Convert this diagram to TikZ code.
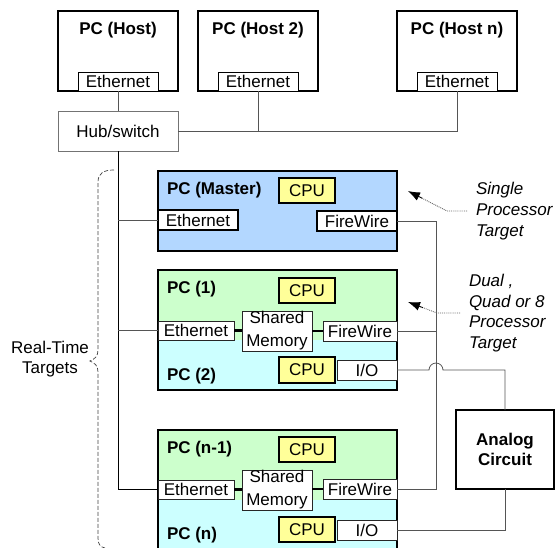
\documentclass[tikz,border=0pt]{standalone}
\usepackage{fontspec}
\setmainfont{Liberation Sans}
\usetikzlibrary{arrows.meta,calc}
\definecolor{masterblue}{RGB}{179,215,255}
\definecolor{upgreen}{RGB}{204,255,204}
\definecolor{lowcyan}{RGB}{204,255,255}
\definecolor{cpuyellow}{RGB}{255,255,153}
\definecolor{wirecol}{RGB}{85,85,85}

\begin{document}
\begin{tikzpicture}[x=1pt,y=-1pt,
  font=\fontsize{17}{20}\selectfont,
  every node/.style={inner sep=0pt, outer sep=0pt},
  hostbox/.style={draw, line width=2pt, minimum width=120pt, minimum height=80pt, anchor=north west},
  hubbox/.style={draw=black!55, line width=0.9pt, minimum width=120pt, minimum height=40pt, anchor=north west},
  hostport/.style={draw, fill=white, line width=0.8pt, minimum width=80pt, minimum height=19pt, anchor=south},
  title/.style={font=\bfseries\fontsize{17}{20}\selectfont},
  tbox/.style={draw, line width=2.2pt, minimum width=239pt, anchor=north west},
  dualfill/.style={path picture={
      \fill[lowcyan] (path picture bounding box.south west) rectangle (path picture bounding box.north east);
      \fill[upgreen] (path picture bounding box.north west) rectangle ([yshift=-70pt]path picture bounding box.north east);}},
  cpubox/.style={draw, fill=cpuyellow, line width=2pt, minimum width=56pt, minimum height=25pt, anchor=north west},
  mport/.style={draw, fill=white, line width=1.7pt, minimum width=80pt, minimum height=20pt, anchor=north west},
  dport/.style={draw=black!85, fill=white, line width=0.8pt, minimum height=19pt, anchor=north west},
  shmbox/.style={draw=black!85, fill=white, line width=0.8pt, minimum width=70pt, minimum height=40pt, anchor=north west,
      align=center, font=\fontsize{17}{23}\selectfont},
  iobox/.style={draw=black!85, fill=white, line width=0.8pt, minimum width=60pt, minimum height=20pt, anchor=north west},
  pcname/.style={anchor=west, font=\bfseries\fontsize{17}{20}\selectfont},
  wire/.style={draw=wirecol, line width=0.8pt},
  trunk/.style={draw=black, line width=0.9pt},
  memlink/.style={draw=black, line width=2.2pt},
  note/.style={anchor=west, inner xsep=9pt, align=left},
  pointerline/.style={draw=black!60, densely dotted, line width=0.9pt},
  pointerhead/.style={draw=black, line width=0.8pt, -{Latex[length=12pt,width=9pt]}},
  bracecurve/.style={draw=black!75, line width=0.7pt, dash pattern=on 4pt off 2pt}
]
\useasboundingbox (0,0) rectangle (555,547);
\clip (0,0) rectangle (555,547);

% host computers
\node[hostbox] (host1) at (58,11) {};
\node[hostbox] (host2) at (198,11) {};
\node[hostbox] (hostn) at (397,11) {};
\node[title] (host1t) at ($(host1.north)+(0,19.5)$) {PC (Host)};
\node[title] (host2t) at ($(host2.north)+(0,19.5)$) {PC (Host 2)};
\node[title] (hostnt) at ($(hostn.north)+(0,19.5)$) {PC (Host n)};
\node[hostport] (host1eth) at (host1.south) {Ethernet};
\node[hostport] (host2eth) at (host2.south) {Ethernet};
\node[hostport] (hostneth) at (hostn.south) {Ethernet};

% network switch
\node[hubbox] (hub) at (58,111) {Hub/switch};

% single processor target
\node[tbox, fill=masterblue, minimum height=80pt] (master) at (158,171) {};
\node[pcname] (mname) at (167,190) {PC (Master)};
\node[cpubox] (mcpu) at (279,178) {CPU};
\node[mport] (meth) at (158,210) {Ethernet};
\node[mport] (mfw) at (317,211) {\raisebox{-1.5pt}{FireWire}};

% dual processor target
\node[tbox, dualfill, minimum height=120pt] (dual1) at (158,270) {};
\node[pcname] (name1) at (167,289) {PC (1)};
\node[pcname] (name2) at (167,376) {PC (2)};
\node[cpubox] (cpu1) at (279,278) {CPU};
\node[cpubox, minimum height=26pt] (cpu2) at (279,357) {CPU};
\node[dport, minimum width=76pt] (eth1) at (158,321) {Ethernet};
\node[shmbox] (shm1) at (242,311) {Shared\\Memory};
\node[dport, minimum width=74pt, minimum height=20pt] (fw1) at (323,321) {\raisebox{-1.5pt}{FireWire}};
\node[iobox] (io2) at (337,360) {I/O};

% last multi processor target
\node[tbox, dualfill, minimum height=120pt] (dualn) at (158,430) {};
\node[pcname] (namen1) at (167,449) {PC (n-1)};
\node[pcname] (namen) at (167,535) {PC (n)};
\node[cpubox] (cpun1) at (279,437) {CPU};
\node[cpubox] (cpun) at (279,517) {CPU};
\node[dport, minimum width=76pt] (ethn1) at (158,480) {Ethernet};
\node[shmbox] (shmn) at (242,470) {Shared\\Memory};
\node[dport, minimum width=74pt, minimum height=20pt] (fwn1) at (323,479) {\raisebox{-1.5pt}{FireWire}};
\node[iobox] (ion) at (337,520) {I/O};

% analog hardware
\node[draw, line width=2pt, minimum width=98pt, minimum height=79pt, anchor=north west, align=center,
      font=\bfseries\fontsize{17}{19.5}\selectfont] (analog) at (456,410) {Analog\\Circuit};

% ethernet network
\draw[wire] (host1eth.south) -- (hub.north);
\draw[wire] (hub.east) -- (hub.east -| hostneth.south) -- (hostneth.south);
\draw[wire] (host2eth.south) -- (host2eth.south |- hub.east);
\draw[trunk] (hub.south) -- (hub.south |- ethn1.west) -- (ethn1.west);
\draw[wire] (hub.south |- meth.west) -- (meth.west);
\draw[wire] (hub.south |- eth1.west) -- (eth1.west);

% shared memory links
\draw[memlink] (eth1.east) -- (eth1.east -| shm1.west);
\draw[memlink] (shm1.east |- fw1.west) -- (fw1.west);
\draw[memlink] (ethn1.east) -- (ethn1.east -| shmn.west);
\draw[memlink] (shmn.east |- fwn1.west) -- (fwn1.west);

% firewire bus
\coordinate (bus) at (436,221);
\draw[wire] (mfw.east) -- (bus |- mfw.east) -- (bus |- fwn1.east) -- (fwn1.east);
\draw[wire] (fw1.east) -- (bus |- fw1.east);

% I/O wiring to the analog circuit
\draw[wire] (io2.east) -- ($(bus |- io2.east)+(-7,0)$) arc[start angle=180, end angle=0, radius=7pt] -| (analog.north);
\draw[wire] (ion.east) -| (analog.south);

% annotations
\node[note, font=\itshape\fontsize{17}{21}\selectfont] (single) at (467,211) {Single\\Processor\\Target};
\node[note, font=\itshape\fontsize{17}{20.4}\selectfont] (multi) at (460,313) {Dual ,\\Quad or 8\\Processor\\Target};
\coordinate (tip1) at (408,191);
\coordinate (tip2) at (408,302);
\coordinate (bend1) at ($(single.west)+(-20,0)$);
\coordinate (bend2) at ($(multi.west)+(-23,0)$);
\draw[pointerline] (single.west) -- (bend1) -- ($(tip1)!10pt!(bend1)$);
\draw[pointerline] (multi.west) -- (bend2) -- ($(tip2)!10pt!(bend2)$);
\draw[pointerhead] ($(tip1)!16pt!(bend1)$) -- (tip1);
\draw[pointerhead] ($(tip2)!16pt!(bend2)$) -- (tip2);

% brace grouping the real-time targets
\draw[bracecurve] (114,170) .. controls (104,170) and (98,173) .. (98,182) -- (98,350)
   .. controls (98,356) and (95,359) .. (90,361) .. controls (95,363) and (98,366) .. (98,372)
   -- (98,538) .. controls (98,544) and (100,547) .. (105,548);
\node[align=center, font=\fontsize{17}{20}\selectfont] (rtlabel) at (50,359) {Real-Time\\Targets};
\end{tikzpicture}
\end{document}
